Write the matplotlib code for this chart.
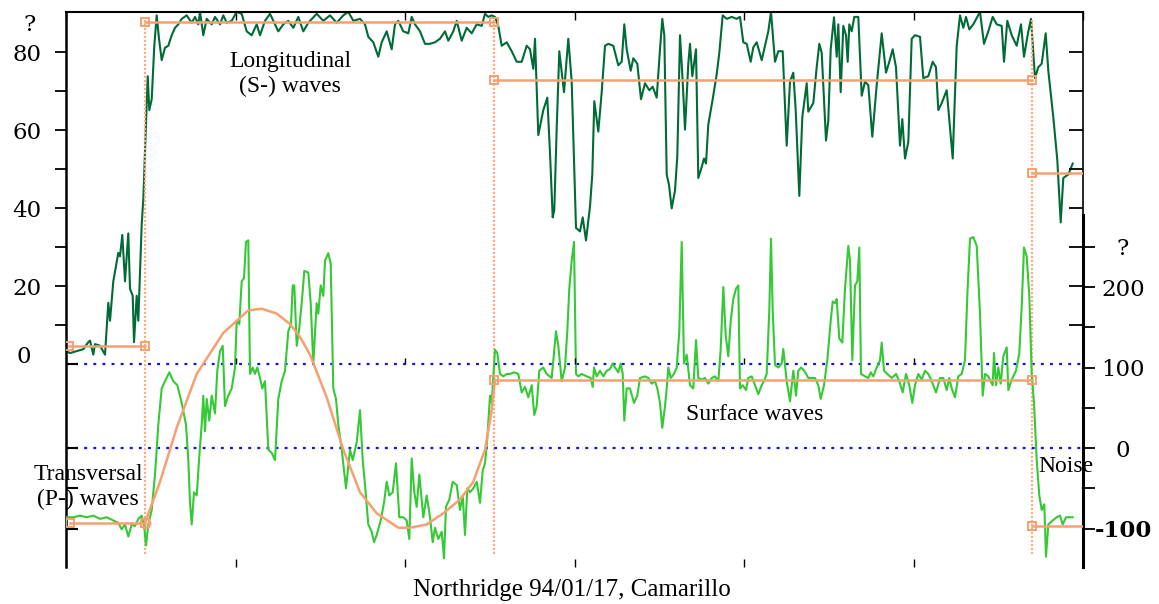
import numpy as np
import matplotlib
matplotlib.use('Agg')
import matplotlib.pyplot as plt

plt.rcParams['font.family'] = ['Liberation Serif', 'DejaVu Serif']

# ---------------- data ----------------
# longitudinal (S-) channel, left scale
dark_x = [0, 4, 10.7, 17.3, 22.3, 24, 27.3, 29, 34, 39,
          42.3, 44, 47.3, 52.3, 54, 56.3, 59, 62.3, 64, 66.7,
          68, 70.7, 72.3, 75.7, 77.3, 80, 81.7, 83.3, 85.7, 88.3,
          90.7, 93, 95.7, 99, 102.3, 105.7, 109, 112.3, 115.7, 120.7,
          125.7, 129, 132.3, 134, 137.3, 140.7, 145.7, 149, 154, 157.3,
          160.7, 165.7, 170.7, 175.7, 180.7, 185.7, 190.7, 194, 199, 204,
          209, 212.3, 217.3, 222.3, 227.3, 232.3, 237.3, 242.3,
          250.7, 257.3, 264, 270.7, 277.3, 282.3, 287.3, 294, 299, 302.3,
          307.3, 312.3, 315.7, 320.7, 325.7, 329, 332.3, 337.3, 342.3, 345.7,
          349, 354, 359, 364, 369, 374, 379, 382.3, 387.3, 390.7,
          395.7, 400.7, 405.7, 410.7, 415.7, 419, 422.3, 425.7, 429, 432.3,
          435.7, 440.7, 445.7, 450.7, 455.7, 460.7, 464, 467.3, 469, 472.3,
          477.3, 481.3, 484, 486.7, 488.3, 490.7, 493.3,
          498, 502.3, 505.7, 510, 514, 516.7, 520, 524, 526.3, 528.3,
          532.3, 535.7, 539, 542.3, 547.3, 552.3, 555.7, 558.3, 560.7, 564.7,
          567.3, 571.3, 575, 579, 583.3, 586.7, 590.7, 594, 596.3, 598.3,
          600.7, 603, 605.7, 609, 611.3, 614, 616.7, 619, 622.3, 624,
          626.3, 630, 632.3, 635.7, 638, 640, 642.3, 646.7, 650.7, 653.3,
          656.7, 660.7, 665.7, 670.7, 674, 677.3, 680.7, 684.7, 687.3, 690.7,
          695.7, 699, 702.3, 705, 709, 712.3, 716.7, 720.7, 724, 727.3,
          729.7, 733.3, 736.3, 740.7, 742.3,
          747.3, 750.7, 753.3, 755.7, 760, 762.3, 764.7, 768, 770.7, 772.3,
          774.7, 777.3, 780, 781.7, 783.3, 785.7, 788.3, 792.3, 795.7, 799,
          802.3, 806.3, 810.7, 815.7, 820, 823.3, 826.7, 830, 834, 836.3,
          839, 842.3, 845.7, 849, 854, 857.3, 862.3, 866.7, 870, 872.3,
          875.7, 880.7, 886.7, 890.7, 894, 897.3, 900, 903.3, 907.3, 914,
          918, 922.3, 926.7, 930.7, 935.7, 938, 941.3, 945.7, 950.7, 955,
          958, 962.3, 965, 969, 972.3, 975.7, 979.7, 982.3, 987.3, 991.3,
          994.7, 997.3, 1002.3, 1006.7]
dark_y = [3.3, 2.8, 3.3, 3.8, 5.6, 6.0, 2.4, 5.1, 4.7, 2.4,
          15.7, 11.1, 21.2, 28.5, 27.6, 33.1, 21.2, 33.5, 19.3, 17.5,
          5.6, 17.5, 11.1, 35.8, 42.2, 61.4, 73.8, 65.1, 67.9, 81.6,
          89.4, 83.4, 77.9, 81.1, 81.6, 84.3, 86.2, 87.1, 88.5, 89.4,
          87.5, 89, 87.1, 90.3, 84.3, 88.5, 87.1, 89, 87.1, 89.4,
          87.5, 88, 90.3, 89.8, 85.3, 84.3, 87.1, 84.3, 88, 89.8,
          87.1, 85.3, 87.1, 88, 86.2, 89, 85.3, 87.5,
          89.8, 88, 89.4, 87.5, 89.4, 90.3, 88, 88.5, 87.1, 83.9,
          82.5, 78.8, 82.5, 85.3, 80.7, 87.1, 88, 85.3, 84.8, 89,
          87.1, 85.3, 82.1, 82.1, 82.5, 83.4, 85.3, 82.9, 85.3, 88,
          82.9, 86.2, 84.8, 87.1, 86.7, 89.8, 89, 89.4, 89, 86.7,
          81.6, 82.5, 80.2, 77.5, 77.5, 81.6, 80.7, 75.7, 83.4, 58.7,
          65.1, 68.3, 54.1, 37.6, 39.5, 60.5, 80.2,
          69.7, 83.4, 72.4, 34.9, 34, 37.6, 31.7, 40.4, 48.6, 67.4,
          59.6, 69.7, 81.6, 82.1, 81.6, 76.6, 77.5, 87.1, 80.7, 75.2,
          78.4, 77, 67.9, 72, 70.2, 71.1, 68.3, 80.7, 88.5, 84.3,
          48.6, 45.9, 39.9, 44.5, 53.2, 84.3, 72.4, 60.1, 77, 82.1,
          73.8, 80.7, 47.7, 50.5, 52.7, 51.4, 61.4, 67.9, 74.3, 79.8,
          89.4, 88.5, 89, 88.5, 89, 82.5, 82.1, 77.5, 81.2, 82.5,
          77.9, 81.6, 85.3, 90.3, 77.5, 80.2, 80.2, 56, 72.4, 74.7,
          65.1, 43.1, 63.3, 72, 64.7,
          66.9, 76.1, 82.1, 79.8, 57.3, 62.4, 80.7, 88.9, 78.8, 87.1,
          69.7, 86.7, 84.3, 77.5, 87.1, 85.3, 89, 89, 68.8, 72.4,
          71.5, 58.3, 71.5, 84.8, 74.7, 77.5, 80.7, 76.1, 56, 62.8,
          52.7, 56.9, 83.4, 84.3, 83.9, 73.3, 73.8, 77.5, 76.1, 65.1,
          66.9, 70.2, 52.7, 81.6, 89.4, 86.2, 89, 85.8, 87.1, 90.3,
          82.1, 85.3, 89, 87.1, 86.7, 77.5, 88, 84.3, 81.6, 87.1,
          78.8, 85.3, 88.5, 73.3, 76.1, 77, 84.8, 75.2, 63.3, 52.3,
          36.3, 47.7, 48.6, 51.4]

# transversal / surface channel, right scale
light_x = [0, 7.3, 14, 20.7, 27.3, 34, 40.7, 47.3, 52.3, 55.7,
           59, 62.3, 65.7, 69, 72.3, 75.7, 78, 80, 82.3, 85.7,
           89, 92.3, 95.7, 99, 103.3, 107.3, 111.3, 115.7, 120, 122.3,
           124, 125.7, 128, 130.7, 133.3, 135.7, 137.3, 139, 140.7, 143.3,
           145.7, 149, 151.3, 154, 156.7, 159, 162.3, 165.7, 169, 170.7,
           173.3, 175.7, 178, 180, 182.3, 184, 186.7, 189, 191.3, 194,
           196.3, 199, 202.3, 205.7, 209, 212.3, 215.7, 219, 222.3, 225,
           226.7, 228.3, 230.7, 233.3, 236.3, 238.3, 242.3, 244.7, 247.3, 250.7,
           252.3, 254.7, 257.3, 259, 262.3, 264.7, 267.3, 270, 272.3, 275.7,
           280, 284, 286.7, 290.7, 294, 296.7, 299, 302.3, 305.7, 308,
           310.7, 314.7, 318, 320.7, 323.3, 326.7, 330, 333.3, 337.3, 340.7,
           343.3, 345.7, 348.3, 350.7, 353.3, 357.3, 360.7, 364, 366.7, 369,
           372.3, 375.7, 378, 380, 383.3, 386.7, 390.7, 394, 396.7, 399,
           401.3, 404, 407.3, 410.7, 414, 416.7, 419, 421.3, 424, 425.7,
           427.3, 429, 431.3, 434, 437.3, 440.7, 444, 448, 452.3, 455.7,
           459, 462.3, 465.7, 468.3, 470.7, 473.3, 477.3, 480.7, 485.7, 490,
           492.3, 495.7, 499, 501.3,
           503.3, 505.7, 508, 510, 512.3, 515.7, 520.7, 524.7, 526.7, 528,
           530.7, 534, 537.3, 540.7, 544, 546.7, 549, 552.3, 554.7, 556.7,
           558.3, 560.7, 564, 568, 571.3, 574, 579, 582.3, 585.7, 589,
           591.3, 594, 596.3, 599, 600.7, 602.3, 604.7, 608, 610.7, 613.3,
           615.7, 618, 620.7, 624, 627.3, 630, 632.3, 635.7, 639, 642.3,
           645.7, 649, 652.3, 654.7, 657.3, 659.7, 662.3, 664.7, 667.3, 670,
           672.3, 674, 676.7, 680, 682.3, 685.7, 689, 692.3, 695.7, 698,
           700.7, 703.3, 705, 706.7, 709, 712.3, 715.7, 717.3, 720.7, 724,
           727.3, 730, 732.3, 735, 738.3, 742.3,
           749, 752.3, 754.7, 758, 761.3, 764.7, 766.7, 769, 770.7, 773.3,
           776.3, 779, 782.3, 784, 786.3, 789, 791.3, 793.3, 795, 799,
           802.3, 804.7, 807.3, 810.7, 814, 815.7, 818, 821.3, 825.7, 830,
           833.3, 836.7, 840, 843.3, 846.3, 849, 852.3, 855.7, 859, 862.3,
           865.7, 870, 874, 877.3, 880.7, 883.3, 885.7, 889, 892.3, 895.7,
           899, 901.3, 904, 907.3, 910.7, 914, 916.7, 919, 922.3, 926.7,
           928, 930, 932.3, 934.7, 937.3, 940.7, 942.3, 945.7, 950, 953.3,
           955.7, 958, 960.7, 963.3, 965.7, 968, 970.7, 973.3, 975.7, 978.3,
           980, 982.3, 986.7, 990.7, 994, 996.7, 1000, 1006.7]
light_y = [-86, -86, -84, -86, -84, -88, -86, -90, -93, -101,
           -95, -110, -95, -97, -88, -84, -95, -121, -95, -77,
           -33, 29, 74, 83, 94, 83, 78, 56, 29, -15,
           -68, -95, -55, -59, -10, 29, 65, 21, 61, 34,
           65, 43, 96, 120, 127, 52, 65, 74, 100, 158,
           154, 207, 211, 256, 258, 92, 100, 92, 100, 87,
           74, 83, -2, -6, -15, 61, 83, 96, 145, 154,
           202, 202, 127, 149, 189, 220, 218, 180, 105, 180,
           167, 202, 189, 233, 242, 229, 74, 61, 29, -2,
           -50, -2, -15, 7, 47, -15, -46, -95, -104, -117,
           -108, -90, -68, -42, -59, -55, -19, -86, -86, -90,
           -113, -13, -55, -73, -33, -86, -59, -86, -117, -99,
           -113, -104, -137, -73, -64, -42, -46, -77, -59, -108,
           -50, -55, -50, -42, -68, -28, -19, 12, 65, 56,
           87, 122, 118, 92, 89, 92, 92, 94, 92, 69,
           76, 63, 78, 41, 52, 96, 100, 92, 87, 145,
           127, 83, 100, 145,
           198, 233, 256, 92, 89, 92, 89, 87, 76, 100,
           89, 96, 89, 96, 98, 105, 100, 94, 105, 92,
           34, 74, 74, 56, 65, 87, 89, 87, 80, 83,
           74, 56, 25, 52, 74, 100, 87, 92, 100, 145,
           256, 105, 116, 78, 74, 134, 87, 85, 87, 80,
           87, 89, 83, 123, 200, 140, 114, 158, 185, 198,
           202, 74, 78, 72, 87, 89, 78, 67, 78, 83,
           92, 171, 260, 171, 103, 100, 105, 123, 83, 58,
           96, 65, 96, 100, 96, 87,
           87, 78, 61, 78, 109, 158, 182, 180, 185, 136,
           131, 198, 251, 233, 109, 202, 207, 249, 92, 89,
           87, 94, 89, 100, 109, 131, 96, 92, 87, 92,
           83, 69, 92, 78, 56, 78, 92, 85, 96, 92,
           83, 69, 87, 87, 72, 87, 74, 63, 89, 92,
           109, 189, 260, 262, 251, 167, 65, 92, 89, 78,
           118, 78, 100, 80, 114, 125, 72, 85, 96, 118,
           176, 249, 238, 189, 92, 56, -15, -59, -77, -70,
           -135, -95, -90, -86, -84, -95, -86, -86]

# smooth fit of the transversal (P-) phase, right scale
fit_x = [79, 94, 110.7, 130.7, 157.3, 182.3, 195.7, 210.7, 224, 234,
         244, 260.7, 277.3, 294, 310.7, 332.3, 344, 360.7, 377.3, 394,
         407.3, 419, 425.7, 429]
fit_y = [-93, -42, 25, 92, 143, 171, 173, 167, 154, 138,
         116, 63, -2, -55, -81, -99, -99, -95, -81, -64,
         -42, -2, 47, 85]

# phase boundaries and phase means
bounds = [79, 428, 966]
dark_seg_start = [3, 79, 428, 966]
dark_seg_end = [79, 428, 966, 1017]
dark_seg_level = [4.7, 87.6, 72.9, 49.1]
light_seg_start = [4, 428, 966]
light_seg_end = [79, 966, 1017]
light_seg_level = [-93, 85, -97]

left_ticks = [20, 40, 60, 80]
left_minor = [10, 30, 50, 70]
right_ticks = [-100, -50, 0, 50, 100, 150, 200, 250]
right_labels = ['-100', '', '0', '', '100', '', '200', '?']

# ---------------- figure ----------------
W, H = 1159, 604
fig = plt.figure(figsize=(W / 100, H / 100), dpi=100)


def fx(px):
    return px / W


def fy(py):
    return 1 - py / H


PT = 0.72  # points per pixel at dpi 100
pos = [fx(66), fy(567), fx(1083) - fx(66), fy(12) - fy(567)]
ax1 = fig.add_axes(pos)
ax2 = ax1.twinx()

XMAX = 1017
L_LIM = (-52.05, 90.26)
R_LIM = (-147.8, 541.6)
ax1.set_xlim(0, XMAX)
ax1.set_ylim(*L_LIM)
ax2.set_ylim(*R_LIM)

ORANGE = '#F6A072'
ORANGE_V = '#F9AE84'
DARK = '#006B35'
LIGHT = '#35C935'
BLUE = '#1010F0'

# blue dotted reference lines
ax1.axhline(0, color=BLUE, lw=1.6, ls=(0, (1.3, 2.8)), zorder=1)
ax2.axhline(0, color=BLUE, lw=1.6, ls=(0, (1.3, 2.8)), zorder=1)

# series
ax1.plot(dark_x, dark_y, color=DARK, lw=1.5, zorder=2)
ax2.plot(light_x, light_y, color=LIGHT, lw=1.5, zorder=2)

# phase boundaries
ax1.vlines(bounds, -48.7, 88.3, colors=ORANGE_V, lw=1.6,
           linestyles=(0, (1.0, 0.8)), zorder=3)

# phase means
for s, e, v in zip(dark_seg_start, dark_seg_end, dark_seg_level):
    me = [0, 1] if e < XMAX else [0]
    ax1.plot([s, e], [v, v], color=ORANGE, lw=1.8, marker='s', ms=5.5,
             mfc='none', mec=ORANGE, mew=1.4, markevery=me, zorder=4)
for s, e, v in zip(light_seg_start, light_seg_end, light_seg_level):
    me = [0, 1] if e < XMAX else [0]
    ax2.plot([s, e], [v, v], color=ORANGE, lw=1.8, marker='s', ms=5.5,
             mfc='none', mec=ORANGE, mew=1.4, markevery=me, zorder=4)
ax2.plot(fit_x, fit_y, color=ORANGE, lw=1.8, zorder=4, marker='o', ms=7,
         mfc='none', mec=ORANGE, mew=1.4, markevery=[0])

# ---------------- axes styling ----------------
TICK_FONT = dict(family='DejaVu Serif', size=16.5)
ax1.spines['bottom'].set_visible(False)
ax1.spines['left'].set_linewidth(1.8)
ax1.spines['top'].set_linewidth(1.5)
ax1.spines['right'].set_linewidth(1.2)

ax1.set_xticks(np.arange(0, XMAX + 1, 169.5))
ax1.tick_params(axis='x', which='major', direction='in', bottom=True,
                top=True, length=6, width=1.0, labelbottom=False,
                labeltop=False)

ax1.set_yticks(left_ticks)
ax1.set_yticklabels([str(t) for t in left_ticks], fontdict=TICK_FONT)
ax1.set_yticks(left_minor, minor=True)
ax1.tick_params(axis='y', which='both', direction='out', left=True,
                right=False, length=11 * PT, width=1.3, pad=28 * PT)
for lbl in ax1.get_yticklabels():
    lbl.set_horizontalalignment('center')

for side in ['left', 'top', 'bottom']:
    ax2.spines[side].set_visible(False)
ax2.spines['right'].set_linewidth(2.2)
ax2.spines['right'].set_bounds(R_LIM[0], 289)
ax2.set_yticks(right_ticks)
ax2.set_yticklabels(right_labels, fontdict=TICK_FONT)
ax2.tick_params(axis='y', direction='out', length=12 * PT, width=1.3,
                pad=28 * PT)
for lbl in ax2.get_yticklabels():
    lbl.set_horizontalalignment('center')
    if lbl.get_text() == '-100':
        lbl.set_fontweight('bold')

# inward ticks on the right for the left scale
axR = fig.add_axes(pos)
axR.set_facecolor('none')
for sp in axR.spines.values():
    sp.set_visible(False)
axR.set_ylim(*L_LIM)
axR.set_xticks([])
axR.yaxis.tick_right()
axR.set_yticks(np.arange(10, 81, 10))
axR.tick_params(axis='y', direction='in', length=14 * PT, width=1.3,
                labelright=False, labelleft=False)

# inward ticks on the left for the right scale
axL = fig.add_axes(pos)
axL.set_facecolor('none')
for sp in axL.spines.values():
    sp.set_visible(False)
axL.set_ylim(*R_LIM)
axL.set_xticks([])
axL.set_yticks([-100, -50, 0, 104.3])
axL.tick_params(axis='y', direction='in', length=12 * PT, width=1.5,
                labelleft=False)

# small ticks along the zero line of the upper trace
axM = fig.add_axes([fx(66), fy(364), fx(1083) - fx(66), fy(12) - fy(364)])
axM.set_facecolor('none')
for sp in axM.spines.values():
    sp.set_visible(False)
axM.set_xlim(0, XMAX)
axM.set_yticks([])
axM.set_xticks(np.arange(169.5, XMAX - 100, 169.5))
axM.tick_params(axis='x', direction='in', length=4, width=1.0,
                labelbottom=False)

# ---------------- texts ----------------
txt = dict(ha='center', va='center', fontsize=17, linespacing=1.22)
fig.text(fx(290), fy(74), 'Longitudinal\n(S-) waves', **txt)
fig.text(fx(88), fy(487), 'Transversal\n(P-) waves', **txt)
fig.text(fx(755), fy(415), 'Surface waves', **txt)
fig.text(fx(1066), fy(467), 'Noise', **txt)
fig.text(fx(572), fy(590), 'Northridge 94/01/17, Camarillo', ha='center',
         va='center', fontsize=18)
fig.text(fx(30), fy(25), '?', ha='center', va='center', **TICK_FONT)
fig.text(fx(24), fy(357), '0', ha='center', va='center', **TICK_FONT)

fig.savefig('out.png', dpi=100)
